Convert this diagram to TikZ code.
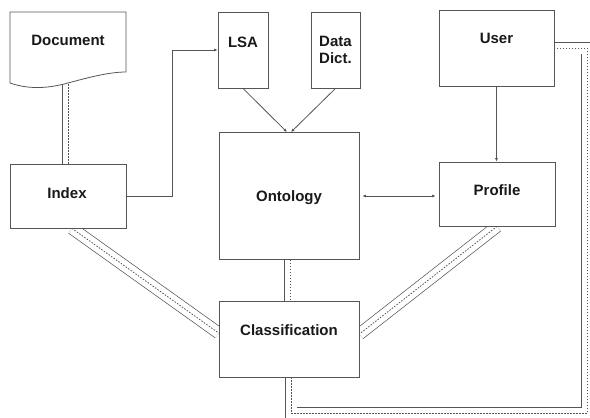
\documentclass[tikz,border=0pt]{standalone}
\usepackage{fontspec}
\setmainfont{Liberation Sans}
\usetikzlibrary{arrows.meta,backgrounds}
\definecolor{edge}{RGB}{85,85,85}
\definecolor{ink}{RGB}{25,25,25}
\tikzset{
  box/.style={draw=edge, line width=0.8pt, fill=white, inner sep=0pt},
  lbl/.style={font=\fontsize{15}{16}\selectfont\bfseries, text=ink, align=center, inner sep=0pt},
  arr/.style={draw=edge, line width=0.8pt, -{Latex[length=3.5pt,width=3pt]}},
  biarr/.style={draw=edge, line width=0.8pt, {Latex[length=3.5pt,width=3pt]}-{Latex[length=3.5pt,width=3pt]}, shorten <=3pt, shorten >=3pt},
  tube/.style={draw=edge, line width=0.7pt, double=white, double distance=11pt, line join=miter},
  tubedots/.style={draw=edge, line width=0.8pt, dash pattern=on 1.5pt off 1.5pt}
}
\begin{document}
\begin{tikzpicture}[x=1pt, y=-1pt]
\useasboundingbox (0,0) rectangle (590,418);

% boxes
\node[box, minimum width=116pt, minimum height=64pt] (idx) at (68,196) {};
\node[box, minimum width=50pt, minimum height=76pt] (lsa) at (243,50) {};
\node[box, minimum width=49pt, minimum height=76pt] (dd) at (335.5,50) {};
\node[box, minimum width=115pt, minimum height=76pt] (user) at (496.5,48) {};
\node[box, minimum width=140pt, minimum height=127pt] (onto) at (289,196) {};
\node[box, minimum width=116pt, minimum height=64pt] (prof) at (497,194) {};
\node[box, minimum width=140pt, minimum height=76pt] (cls) at (289,339) {};

% Document sheet with wavy lower edge
\draw[box] (10,12) -- (126,12) -- (126,72)
  .. controls (110,72) and (90,77) .. (68,83)
  .. controls (50,88) and (30,90) .. (10,83) -- cycle;
\node[lbl] (doc) at (68,40) {Document};
\coordinate (docbase) at (68,84);

% labels
\node[lbl] (idxT) at (67,193) {Index};
\node[lbl] (lsaT) at (243,42) {LSA};
\node[lbl] (ddT) at (335.5,50) {Data\\[1pt]Dict.};
\node[lbl] (userT) at (496.5,38) {User};
\node[lbl] (ontoT) at (289,198) {Ontology};
\node[lbl] (profT) at (497,190) {Profile};
\node[lbl] (clsT) at (289,330) {Classification};

\begin{scope}[on background layer]
% single connectors
\draw[arr] (idx.east) -- ++(46,0) |- (lsa.west);
\draw[arr] (lsa.south) -- ([xshift=-2pt]onto.north);
\draw[arr] (dd.south) -- ([xshift=2pt]onto.north);
\draw[arr] (user.south) -- (user.south |- prof.north);
\draw[biarr] (onto.east) -- (onto.east -| prof.west);

% double connectors with dotted core
\draw[tube] ([yshift=2pt]docbase) -- (idx.north);
\draw[tubedots] (docbase) -- (idx.north);
\draw[tube] ([xshift=4pt]idx.south) -- ([yshift=6pt]cls.west);
\draw[tubedots] ([xshift=4pt]idx.south) -- ([yshift=6pt]cls.west);
\draw[tube] (prof.south) -- ([yshift=5pt]cls.east);
\draw[tubedots] (prof.south) -- ([yshift=5pt]cls.east);
\draw[tube] ([xshift=1pt]onto.south) -- ([xshift=1pt]cls.north);
\draw[tubedots] ([xshift=1pt]onto.south) -- ([xshift=1pt]cls.north);
\draw[tube] ([xshift=2pt]cls.south) -- ++(0,36) -| (587,48) -- (user.east);
\draw[tubedots] ([xshift=2pt]cls.south) -- ++(0,36) -| (587,48) -- (user.east);
\end{scope}
\end{tikzpicture}
\end{document}
